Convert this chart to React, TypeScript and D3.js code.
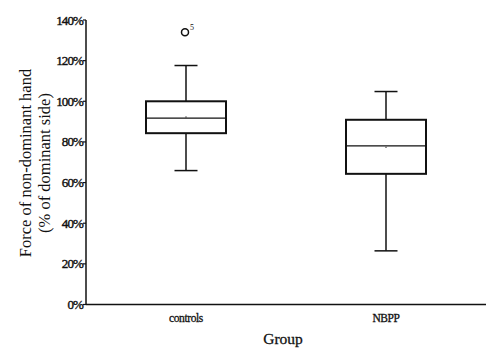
import * as d3 from "d3";

// data (percent of dominant side)
const groups = ["controls", "NBPP"];
const whiskerLow = [65.9, 26.4];
const q1 = [84.3, 64.3];
const medians = [91.7, 78.1];
const q3 = [100, 90.9];
const whiskerHigh = [117.6, 104.8];
const means = [92.2, 77.4];
const outliers = [{ group: "controls", value: 134, label: "5" }];
const yTicks = [0, 20, 40, 60, 80, 100, 120, 140];

const W = 488;
const H = 351;
const margin = { top: 20, right: 2, bottom: 46.5, left: 86 };
const FONT = "Liberation Serif";

export default function App() {
  const innerW = W - margin.left - margin.right;
  const innerH = H - margin.top - margin.bottom;

  const x = d3.scaleBand().domain(groups).range([0, innerW]).paddingInner(0.6).paddingOuter(0.3);
  const y = d3.scaleLinear().domain([0, 140]).range([innerH, 0]);
  const bw = x.bandwidth();
  const capW = 23;

  const txt = { fontFamily: FONT, fill: "#111" } as const;

  return (
    <svg width={W} height={H} style={{ position: "absolute", left: 0, top: 0, background: "#fff" }}>
      <g transform={`translate(${margin.left},${margin.top})`}>
        {/* y axis */}
        <line x1={0} x2={0} y1={y(140)} y2={y(0)} stroke="#111" strokeWidth={1.5} />
        {yTicks.map((t) => (
          <g key={t} transform={`translate(0,${y(t)})`}>
            <line x1={-3} x2={0} stroke="#111" strokeWidth={1.2} />
            <text
              x={-3}
              dy="0.35em"
              textAnchor="end"
              fontSize={13}
              letterSpacing={-0.9}
              stroke="#111"
              strokeWidth={0.4}
              style={txt}
            >
              {t}%
            </text>
          </g>
        ))}
        {/* x axis */}
        <line x1={0} x2={innerW} y1={y(0)} y2={y(0)} stroke="#111" strokeWidth={1.5} />
        {groups.map((g) => (
          <text
            key={g}
            x={(x(g) ?? 0) + bw / 2}
            y={innerH + 17}
            textAnchor="middle"
            fontSize={11.5}
            letterSpacing={-0.4}
            stroke="#111"
            strokeWidth={0.3}
            style={txt}
          >
            {g}
          </text>
        ))}

        {/* boxes */}
        {groups.map((g, i) => {
          const x0 = x(g) ?? 0;
          const cx = x0 + bw / 2;
          return (
            <g key={g}>
              <line x1={cx} x2={cx} y1={y(whiskerHigh[i])} y2={y(q3[i])} stroke="#111" strokeWidth={1.5} />
              <line x1={cx} x2={cx} y1={y(q1[i])} y2={y(whiskerLow[i])} stroke="#111" strokeWidth={1.5} />
              <line
                x1={cx - capW / 2}
                x2={cx + capW / 2}
                y1={y(whiskerHigh[i])}
                y2={y(whiskerHigh[i])}
                stroke="#111"
                strokeWidth={1.5}
              />
              <line
                x1={cx - capW / 2}
                x2={cx + capW / 2}
                y1={y(whiskerLow[i])}
                y2={y(whiskerLow[i])}
                stroke="#111"
                strokeWidth={1.5}
              />
              <rect
                x={x0}
                y={y(q3[i])}
                width={bw}
                height={y(q1[i]) - y(q3[i])}
                fill="#fff"
                stroke="#111"
                strokeWidth={2}
              />
              <line x1={x0} x2={x0 + bw} y1={y(medians[i])} y2={y(medians[i])} stroke="#111" strokeWidth={1.2} />
              <circle cx={cx} cy={y(means[i])} r={0.8} fill="#555" />
            </g>
          );
        })}

        {/* outliers */}
        {outliers.map((o) => {
          const cx = (x(o.group) ?? 0) + bw / 2;
          return (
            <g key={o.label}>
              <circle cx={cx - 1} cy={y(o.value)} r={3.5} fill="none" stroke="#111" strokeWidth={1.5} />
              <text x={cx + 4} y={y(o.value) - 2} fontSize={8} style={txt}>
                {o.label}
              </text>
            </g>
          );
        })}
      </g>

      {/* axis titles */}
      <text x={283} y={344} textAnchor="middle" fontSize={15.5} stroke="#111" strokeWidth={0.3} style={txt}>
        Group
      </text>
      <text transform={`translate(31,163) rotate(-90)`} textAnchor="middle" fontSize={16.5} style={txt}>
        Force of non-dominant hand
      </text>
      <text transform={`translate(50,163) rotate(-90)`} textAnchor="middle" fontSize={16.5} style={txt}>
        (% of dominant side)
      </text>
    </svg>
  );
}
